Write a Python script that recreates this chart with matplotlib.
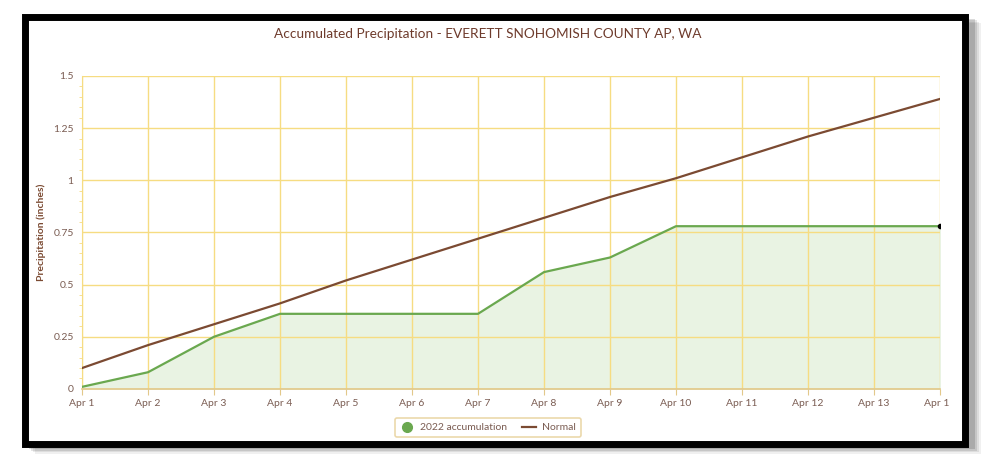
import matplotlib
matplotlib.use("Agg")
import matplotlib.pyplot as plt
from matplotlib.patches import Rectangle
from matplotlib.transforms import Bbox, TransformedBbox

plt.rcParams['font.family'] = ['Lato', 'DejaVu Sans']

# data
days = ["Apr 1", "Apr 2", "Apr 3", "Apr 4", "Apr 5", "Apr 6", "Apr 7",
        "Apr 8", "Apr 9", "Apr 10", "Apr 11", "Apr 12", "Apr 13", "Apr 14"]
accum_2022 = [0.01, 0.08, 0.25, 0.36, 0.36, 0.36, 0.36,
              0.56, 0.63, 0.78, 0.78, 0.78, 0.78, 0.78]
normal = [0.10, 0.21, 0.31, 0.41, 0.52, 0.62, 0.72,
          0.82, 0.92, 1.01, 1.11, 1.21, 1.30, 1.39]
y_ticks = [0, 0.25, 0.5, 0.75, 1, 1.25, 1.5]
y_tick_labels = ["0", "0.25", "0.5", "0.75", "1", "1.25", "1.5"]

brown = "#7b4a32"
title_col = "#6e3b2c"
text_col = "#7a5c52"
grid_col = "#f6dc82"
green = "#6aa84f"

fig = plt.figure(figsize=(10, 4.72), dpi=100)
fig.patch.set_facecolor("white")

# drop shadow + black frame of the screenshot
for i, a in enumerate([0.06, 0.08, 0.10, 0.14]):
    off = 0.010 - i * 0.002
    fig.patches.append(Rectangle((0.025 + off, 0.055 - off * 1.6), 0.946, 0.912,
                                 transform=fig.transFigure, facecolor="black",
                                 alpha=a, edgecolor="none", zorder=0))
fig.patches.append(Rectangle((0.025, 0.059), 0.940, 0.904, transform=fig.transFigure,
                             facecolor="white", edgecolor="black", linewidth=5, zorder=1))

ax = fig.add_axes([0.082, 0.176, 0.858, 0.663])
ax.set_zorder(2)
ax.set_facecolor("none")
x = list(range(len(days)))

ax.fill_between(x, accum_2022, 0, color="#e9f3e3", zorder=1)
ax.plot(x, accum_2022, color=green, lw=1.6, zorder=3, label="2022 accumulation")
ax.plot(x, normal, color=brown, lw=1.6, zorder=3, label="Normal")
ax.plot(x[-1], accum_2022[-1], "o", color="black", ms=3, zorder=4)

ax.set_xlim(0, len(days) - 1)
ax.set_ylim(0, 1.5)
ax.set_xticks(x)
ax.set_xticklabels(days)
ax.set_yticks(y_ticks)
ax.set_yticklabels(y_tick_labels)
ax.set_yticks([i * 0.05 for i in range(31)], minor=True)

ax.grid(True, color=grid_col, lw=1.0, zorder=0)
for s in ["top", "right"]:
    ax.spines[s].set_visible(False)
ax.spines["left"].set_color(grid_col)
ax.spines["bottom"].set_color("#e2c88a")
ax.spines["bottom"].set_linewidth(1.2)

ax.tick_params(axis="x", colors="#e2c88a", labelcolor=text_col, labelsize=7.5,
               length=4, pad=3)
ax.tick_params(axis="y", which="major", length=0, labelcolor=text_col,
               labelsize=7.5, pad=6)
ax.tick_params(axis="y", which="minor", length=2, color=grid_col)

ax.set_ylabel("Precipitation (inches)", color=brown, fontsize=7.5,
              fontweight="bold", labelpad=5)
fig.text(0.488, 0.928, "Accumulated Precipitation - EVERETT SNOHOMISH COUNTY AP, WA",
         ha="center", va="center", color=title_col, fontsize=9.8)

# last label is cut off at the chart edge in the reference
last = ax.get_xticklabels()[-1]
last.set_clip_on(True)
last.set_clip_box(TransformedBbox(Bbox([[0, 0], [0.949, 1]]), fig.transFigure))

leg = ax.legend(handles=[
    plt.Line2D([], [], marker="o", color=green, ls="none", ms=7),
    plt.Line2D([], [], color=brown, lw=1.6)],
    labels=["2022 accumulation", "Normal"],
    loc="center", bbox_to_anchor=(0.488, 0.094), bbox_transform=fig.transFigure,
    ncol=2, fontsize=7.5, frameon=True, fancybox=True, handlelength=1.3,
    columnspacing=1.5, handletextpad=0.6, borderpad=0.5, labelcolor=text_col)
leg.get_frame().set_edgecolor("#e6cf96")
leg.get_frame().set_linewidth(1.2)

fig.savefig("out.png", dpi=100)
